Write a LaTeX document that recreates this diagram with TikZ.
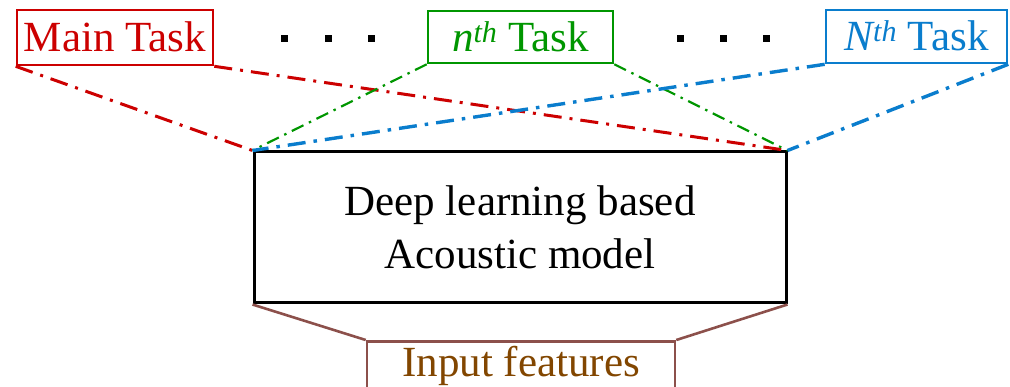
\documentclass[tikz,border=0pt]{standalone}
\usepackage{fontspec}
\setmainfont{Liberation Serif}
\definecolor{taskred}{RGB}{204,0,0}
\definecolor{taskgreen}{RGB}{0,150,0}
\definecolor{taskblue}{RGB}{10,125,205}
\definecolor{inbrown}{RGB}{140,80,75}
\definecolor{intext}{RGB}{130,70,0}
\tikzset{
  px/.style={x=1pt,y=-1pt},
  taskbox/.style={draw, line width=2.6pt, inner sep=0pt, text height=29pt, text depth=0pt,
    font=\fontsize{43}{50}\selectfont},
  dashdot red/.style={taskred, line width=3pt, dash pattern=on 18pt off 8pt on 3pt off 8pt},
  dashdot green/.style={taskgreen, line width=2.2pt, dash pattern=on 13pt off 6pt on 2.5pt off 6pt},
  dashdot blue/.style={taskblue, line width=3.4pt, dash pattern=on 18pt off 8pt on 3.5pt off 8pt},
  dotmark/.style={fill=black, minimum size=7pt, inner sep=0pt},
}
\begin{document}
\begin{tikzpicture}[px]
\clip (0,0) rectangle (1010,387);
% task heads
\node[taskbox, taskred, minimum width=196pt, minimum height=55pt] (main) at (115,37.5) {Main Task};
\node[taskbox, taskgreen, minimum width=185pt, minimum height=52pt] (nth) at (520.5,37) {\textit{n\textsuperscript{th}} Task};
\node[taskbox, taskblue, minimum width=181pt, minimum height=53pt] (Nth) at (916.5,36.5) {\textit{N\textsuperscript{th}} Task};
% ellipsis dots between the heads
\node[dotmark] (d1) at (284,39) {};
\node[dotmark] (d2) at (328,39) {};
\node[dotmark] (d3) at (371,39) {};
\node[dotmark] (d4) at (680,39) {};
\node[dotmark] (d5) at (723,39) {};
\node[dotmark] (d6) at (766,39) {};
% shared model
\node[draw, line width=3pt, minimum width=532pt, minimum height=151pt, align=center,
  font=\fontsize{43}{53}\selectfont] (model) at (520,227.5) {Deep learning based\\Acoustic model};
% input block
\node[draw=inbrown, line width=2.6pt, minimum width=308pt, minimum height=50pt, inner sep=0pt,
  text=intext, font=\fontsize{43}{50}\selectfont, text height=29pt, text depth=8pt, anchor=north] (input) at (521,340) {Input features};
% task head connectors
\draw[dashdot red] (main.south west) -- (model.north west);
\draw[dashdot red] (main.south east) -- (model.north east);
\draw[dashdot green] (nth.south west) -- (model.north west);
\draw[dashdot green] (nth.south east) -- (model.north east);
\draw[dashdot blue] (Nth.south west) -- (model.north west);
\draw[dashdot blue] (Nth.south east) -- (model.north east);
% input connectors
\draw[inbrown, line width=2.6pt] (model.south west) -- (input.north west);
\draw[inbrown, line width=2.6pt] (model.south east) -- (input.north east);
\end{tikzpicture}
\end{document}
